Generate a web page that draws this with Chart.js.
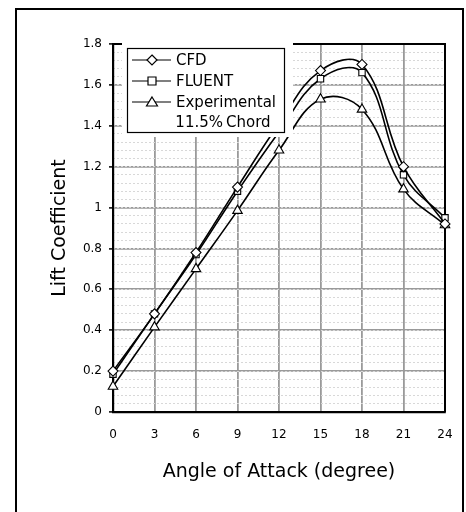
<!DOCTYPE html>
<html>
<head>
<meta charset="utf-8">
<script src="https://cdn.jsdelivr.net/npm/chart.js@4"></script>
<style>
  html, body { margin: 0; padding: 0; background: #fff; }
  #wrap { width: 466px; height: 512px; }
</style>
</head>
<body>
<div id="wrap"><canvas id="myChart" width="466" height="512"></canvas></div>
<script>
// data
var angles = [0, 3, 6, 9, 12, 15, 18, 21, 24];
var cfd = [0.20, 0.48, 0.78, 1.10, 1.41, 1.67, 1.70, 1.20, 0.92];
var fluent = [0.185, 0.48, 0.77, 1.08, 1.37, 1.63, 1.66, 1.16, 0.95];
var experimental = [0.125, 0.415, 0.70, 0.985, 1.28, 1.53, 1.48, 1.09, 0.915];
var yTicks = [0, 0.2, 0.4, 0.6, 0.8, 1, 1.2, 1.4, 1.6, 1.8];
var xTicks = [0, 3, 6, 9, 12, 15, 18, 21, 24];

var FONT = '"DejaVu Sans", "Liberation Sans", Arial, sans-serif';

function pts(arr) {
  return angles.map(function (a, i) { return { x: a, y: arr[i] }; });
}

Chart.defaults.font.family = FONT;
Chart.defaults.color = '#000';

// top/right frame of the plot, drawn under the markers
var plotFrame = {
  id: 'plotFrame',
  beforeDatasetsDraw: function (chart) {
    var a = chart.chartArea, c = chart.ctx;
    c.save();
    c.strokeStyle = '#000';
    c.lineWidth = 2;
    c.beginPath();
    c.moveTo(a.left, a.top);
    c.lineTo(a.right, a.top);
    c.lineTo(a.right, a.bottom);
    c.stroke();
    c.restore();
  }
};

// legend box with white mask behind it
var boxLegend = {
  id: 'boxLegend',
  afterDatasetsDraw: function (chart) {
    var c = chart.ctx;
    c.save();
    c.fillStyle = '#fff';
    c.fillRect(122, 38, 171, 99);
    c.strokeStyle = '#000';
    c.lineWidth = 1.2;
    c.strokeRect(127.5, 48.5, 157, 84);

    var rows = [
      { label: 'CFD', y: 60, shape: 'diamond' },
      { label: 'FLUENT', y: 81, shape: 'square' },
      { label: 'Experimental', y: 102, shape: 'triangle' }
    ];
    c.font = '15px ' + FONT;
    c.textBaseline = 'middle';
    rows.forEach(function (r) {
      c.strokeStyle = '#000';
      c.lineWidth = 1.2;
      c.beginPath();
      c.moveTo(132, r.y);
      c.lineTo(171, r.y);
      c.stroke();
      c.fillStyle = '#fff';
      c.beginPath();
      if (r.shape === 'diamond') {
        c.moveTo(152, r.y - 5); c.lineTo(157, r.y); c.lineTo(152, r.y + 5); c.lineTo(147, r.y);
      } else if (r.shape === 'square') {
        c.rect(148, r.y - 4, 8, 8);
      } else {
        c.moveTo(152, r.y - 5); c.lineTo(157.5, r.y + 4); c.lineTo(146.5, r.y + 4);
      }
      c.closePath();
      c.fill();
      c.stroke();
      c.fillStyle = '#000';
      c.fillText(r.label, 176, r.y + 1);
    });
    c.fillText('11.5%', 223 - c.measureText('11.5%').width, 123);
    c.fillText('Chord', 226, 123);
    c.restore();
  },
  afterDraw: function (chart) {
    var c = chart.ctx;
    c.save();
    c.strokeStyle = '#000';
    c.lineWidth = 2;
    c.strokeRect(16, 9, 447, 530);
    c.restore();
  }
};

function series(label, arr, style, radius) {
  return {
    label: label,
    data: pts(arr),
    borderColor: '#000',
    borderWidth: 1.6,
    backgroundColor: '#fff',
    pointStyle: style,
    pointRadius: radius,
    pointBorderWidth: 1.1,
    pointBorderColor: '#000',
    pointBackgroundColor: '#fff',
    tension: 0.4,
    clip: false
  };
}

var ctx = document.getElementById('myChart').getContext('2d');
var chart = new Chart(ctx, {
  type: 'line',
  data: {
    datasets: [
      series('CFD', cfd, 'rectRot', 5),
      series('FLUENT', fluent, 'rect', 4.5),
      series('Experimental', experimental, 'triangle', 5.5)
    ]
  },
  options: {
    responsive: false,
    animation: false,
    layout: { padding: { left: 49, right: 21, top: 44, bottom: 25 } },
    plugins: { legend: { display: false }, tooltip: { enabled: false } },
    scales: {
      x: {
        type: 'linear',
        min: 0,
        max: 24,
        afterBuildTicks: function (s) { s.ticks = xTicks.map(function (v) { return { value: v }; }); },
        afterFit: function (s) { s.height = 75; s.paddingLeft = 0; s.paddingRight = 0; },
        ticks: { font: { size: 12 }, padding: 16, maxRotation: 0 },
        grid: { color: '#9a9a9a', lineWidth: 1.8, drawTicks: false },
        border: { color: '#000', width: 2.2 },
        title: { display: true, text: 'Angle of Attack (degree)', font: { size: 19 }, padding: { top: 12 } }
      },
      y: {
        min: 0,
        max: 1.8,
        afterBuildTicks: function (s) { s.ticks = yTicks.map(function (v) { return { value: v }; }); },
        afterFit: function (s) { s.width = 64; },
        ticks: { font: { size: 12 }, padding: 7, callback: function (v) { return String(Math.round(v * 10) / 10); } },
        grid: { color: '#9a9a9a', lineWidth: 1.8, tickLength: 4, tickColor: '#000', tickWidth: 1.5 },
        border: { color: '#000', width: 2.2 },
        title: { display: true, text: 'Lift Coefficient', font: { size: 19 }, padding: 0 }
      },
      yMinor: {
        position: 'left',
        min: 0,
        max: 1.8,
        ticks: { display: false, stepSize: 0.04 },
        afterFit: function (s) { s.width = 0; },
        grid: { color: '#d8d8d8', lineWidth: 1, drawTicks: false },
        border: { display: false, dash: [2, 2] }
      }
    }
  },
  plugins: [plotFrame, boxLegend]
});
</script>
</body>
</html>
